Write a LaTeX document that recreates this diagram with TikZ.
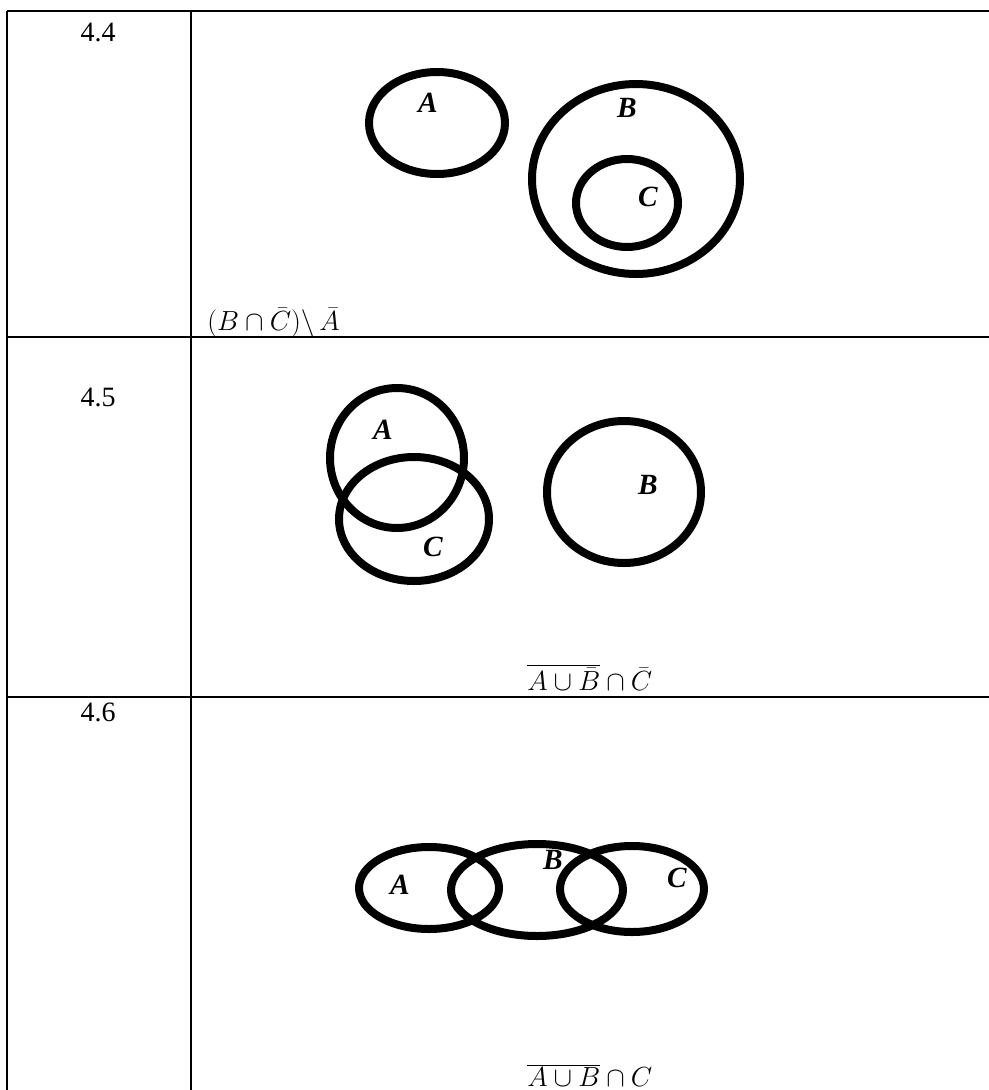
\documentclass[tikz,border=0pt]{standalone}
\usepackage{fontspec}
\setmainfont{Liberation Serif}
\newfontfamily\tnr{Liberation Serif}
\usepackage{tikz}

\begin{document}
\begin{tikzpicture}[x=0.75pt, y=-0.75pt,
  ring/.style={line width=6pt},
  setname/.style={font=\tnr\fontsize{22}{24}\selectfont\bfseries\itshape},
  rownum/.style={font=\tnr\fontsize{21}{24}\selectfont, anchor=base},
  expr/.style={font=\fontsize{22}{26}\selectfont, anchor=base west, inner sep=0pt}]
  \useasboundingbox (0,0) rectangle (989,1090);
  % table lines
  \draw[line width=2.2pt] (7,11) -- (989,11);
  \draw[line width=2.2pt] (7,11) -- (7,1090);
  \draw[line width=2.2pt] (191,11) -- (191,1090);
  \draw[line width=1.5pt] (7,337) -- (989,337);
  \draw[line width=1.5pt] (7,697) -- (989,697);
  \node[rownum] (n44) at (98,41) {4.4};
  \node[rownum] (n45) at (98,406) {4.5};
  \node[rownum] (n46) at (98,721) {4.6};
  % 4.4
  \begin{scope}
    \draw[ring] (437,123) ellipse[x radius=68, y radius=51];
    \draw[ring] (636,179) ellipse[x radius=104, y radius=95];
    \draw[ring] (627,203) ellipse[x radius=51, y radius=44];
    \node[setname] (a44) at (428,103) {A};
    \node[setname] (b44) at (627,108) {B};
    \node[setname] (c44) at (648,197) {C};
    \node[expr] (f44) at (207,330) {$(B\cap\bar{C})\backslash\,\bar{A}$};
  \end{scope}
  % 4.5
  \begin{scope}
    \draw[ring] (397,458) ellipse[x radius=67, y radius=70];
    \draw[ring] (414,519) ellipse[x radius=75, y radius=62];
    \draw[ring] (624,492) ellipse[x radius=77, y radius=71];
    \node[setname] (a45) at (383,430) {A};
    \node[setname] (c45) at (433,547) {C};
    \node[setname] (b45) at (648,485) {B};
    \node[expr] (f45) at (527,690) {$\overline{A\cup\bar{B}}\cap\bar{C}$};
  \end{scope}
  % 4.6
  \begin{scope}
    \draw[ring] (429,888) ellipse[x radius=70, y radius=41];
    \draw[ring] (537,890) ellipse[x radius=86, y radius=46];
    \draw[ring] (632,889) ellipse[x radius=72, y radius=43];
    \node[setname] (a46) at (400,885) {A};
    \node[setname] (b46) at (553,860) {B};
    \node[setname] (c46) at (677,878) {C};
    \node[expr] (f46) at (527,1086) {$\overline{A\cup B}\cap C$};
  \end{scope}
\end{tikzpicture}
\end{document}
